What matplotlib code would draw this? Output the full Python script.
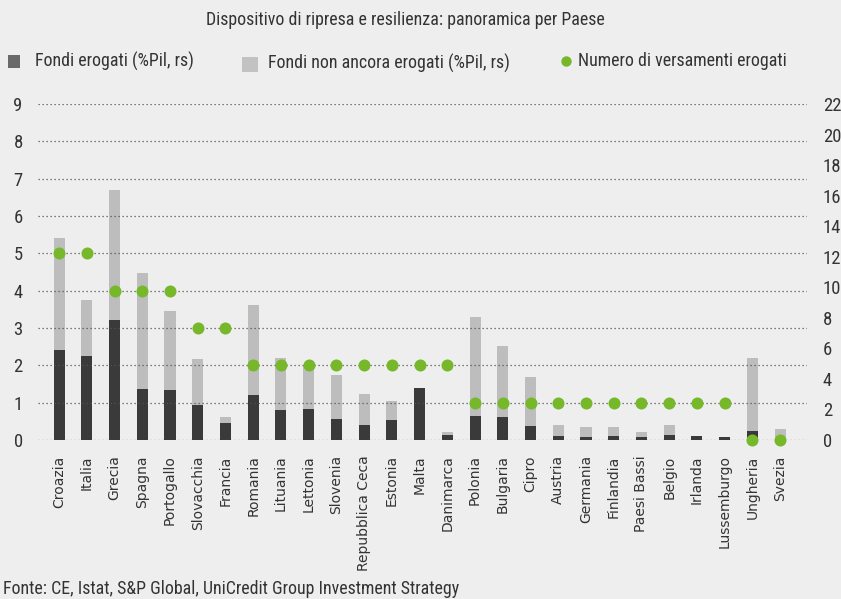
import matplotlib
matplotlib.use('Agg')
import matplotlib.pyplot as plt
from matplotlib.patches import Rectangle
from matplotlib import font_manager

countries = ['Croazia', 'Italia', 'Grecia', 'Spagna', 'Portogallo', 'Slovacchia', 'Francia',
             'Romania', 'Lituania', 'Lettonia', 'Slovenia', 'Repubblica Ceca', 'Estonia', 'Malta',
             'Danimarca', 'Polonia', 'Bulgaria', 'Cipro', 'Austria', 'Germania', 'Finlandia',
             'Paesi Bassi', 'Belgio', 'Irlanda', 'Lussemburgo', 'Ungheria', 'Svezia']
# % of GDP, right scale
fondi_erogati = [5.90, 5.50, 7.86, 3.32, 3.26, 2.29, 1.13, 2.93, 1.94, 2.00, 1.37, 0.98, 1.33, 3.40,
                 0.33, 1.57, 1.48, 0.89, 0.26, 0.20, 0.24, 0.20, 0.33, 0.26, 0.20, 0.59, 0.00]
fondi_non_erogati = [7.30, 3.67, 8.54, 7.60, 5.20, 3.00, 0.37, 5.90, 3.43, 2.90, 2.90, 2.03, 1.22, 0.00,
                     0.19, 6.48, 4.68, 3.23, 0.72, 0.65, 0.61, 0.32, 0.65, 0.00, 0.00, 4.78, 0.72]
# number of payments, left scale
versamenti = [5, 5, 4, 4, 4, 3, 3, 2, 2, 2, 2, 2, 2, 2, 2, 1, 1, 1, 1, 1, 1, 1, 1, 1, 1, 0, 0]

left_ticks = list(range(0, 10))
right_ticks = list(range(0, 23, 2))

title = 'Dispositivo di ripresa e resilienza: panoramica per Paese'
legend_labels = ['Fondi erogati (%Pil, rs)', 'Fondi non ancora erogati (%Pil, rs)',
                 'Numero di versamenti erogati']
source = 'Fonte: CE, Istat, S&P Global, UniCredit Group Investment Strategy'

available = {f.name for f in font_manager.fontManager.ttflist}
narrow, nscale = 'DejaVu Sans', 0.85
for name, sc in [('Liberation Sans Narrow', 1.0), ('DejaVu Sans Condensed', 0.95),
                 ('Roboto Condensed', 1.0), ('Open Sans Condensed', 1.0), ('Roboto', 0.92)]:
    if name in available:
        narrow, nscale = name, sc
        break
NF = [narrow, 'DejaVu Sans']
FS = 12.9 * nscale

BG = '#eeeeee'
DARK = '#3a3a3a'
GREY = '#bdbdbd'
GREEN = '#76b82a'
TXT = '#333333'

W, H = 841, 599
fig = plt.figure(figsize=(W / 100, H / 100), dpi=100, facecolor=BG)
ax = fig.add_axes([38 / W, 1 - 440 / H, (807 - 38) / W, (440 - 104) / H])
ax.set_facecolor(BG)

x = list(range(len(countries)))
ax.bar(x, fondi_erogati, width=0.4, color=DARK, zorder=2)
ax.bar(x, fondi_non_erogati, bottom=fondi_erogati, width=0.4, color=GREY, zorder=2)
ax.set_ylim(0, 22)
ax.set_xticks(x)
ax.set_xticklabels(countries, rotation=90, fontsize=10, color=TXT)
ax.tick_params(axis='x', length=0, pad=11)
ax.set_xlim(-0.76, 26.97)
for s in ax.spines.values():
    s.set_visible(False)

ax2 = ax.twinx()
ax2.set_ylim(0, 9)
ax2.set_yticks(left_ticks)
ax2.set_yticklabels([str(t) for t in left_ticks], family=NF)
ax2.yaxis.tick_left()
ax2.tick_params(axis='y', length=0, pad=11, labelsize=FS + 0.5, labelcolor=TXT)
ax2.grid(axis='y', linestyle=(0, (1, 2.2)), color='#555555', linewidth=0.9, zorder=1)
ax2.scatter(x, versamenti, s=75, color=GREEN, zorder=3, clip_on=False, linewidths=0)
for s in ax2.spines.values():
    s.set_visible(False)

# right scale for bars (set after twinx, which moves ticks)
ax.yaxis.tick_right()
ax.set_yticks(right_ticks)
ax.set_yticklabels([str(t) for t in right_ticks], family=NF)
ax.tick_params(axis='y', length=0, pad=11.5, labelsize=FS + 0.5, labelcolor=TXT)

fig.text(405 / W, 1 - 20 / H, title, ha='center', va='center', fontsize=FS, color=TXT, family=NF)

fig.add_artist(Rectangle((8 / W, 1 - 68 / H), 12 / W, 13 / H, transform=fig.transFigure,
                         facecolor='#6a6a6a', edgecolor='none'))
fig.text(35 / W, 1 - 61 / H, legend_labels[0], ha='left', va='center', fontsize=FS, color=TXT, family=NF)
fig.add_artist(Rectangle((242 / W, 1 - 72 / H), 16 / W, 15 / H, transform=fig.transFigure,
                         facecolor='#c2c2c2', edgecolor='none'))
fig.text(268 / W, 1 - 63 / H, legend_labels[1], ha='left', va='center', fontsize=FS, color=TXT, family=NF)
fig.add_artist(plt.Line2D([566 / W], [1 - 61 / H], transform=fig.transFigure, marker='o',
                          markersize=7.5, color=GREEN, markeredgewidth=0, linestyle='none'))
fig.text(578 / W, 1 - 61 / H, legend_labels[2], ha='left', va='center', fontsize=FS, color=TXT, family=NF)

fig.text(3 / W, 1 - 589 / H, source, ha='left', va='center', fontsize=FS, color=TXT, family=NF)

fig.savefig('out.png', dpi=100, facecolor=BG)
